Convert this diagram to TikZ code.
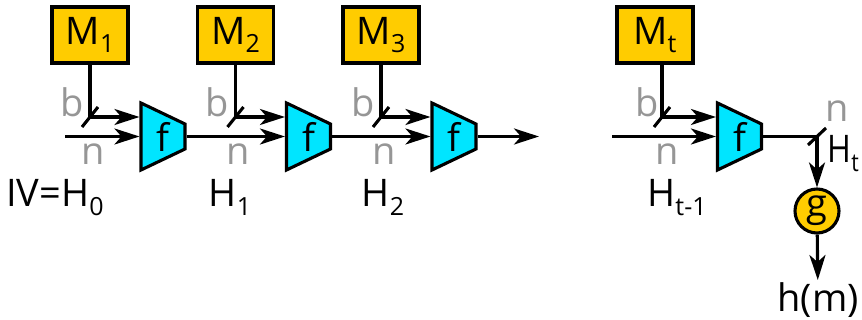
\documentclass[tikz,border=0pt]{standalone}
\usepackage{fontspec}
\setmainfont{Open Sans}
\usetikzlibrary{arrows.meta}
\definecolor{msgyellow}{RGB}{255,204,0}
\definecolor{fcyan}{RGB}{0,229,255}
\definecolor{lblgray}{RGB}{150,150,150}
\newcommand{\lowsub}[1]{\raisebox{-0.22em}{\fontsize{25}{25}\selectfont #1}}
\tikzset{
  msgbox/.style={draw, fill=msgyellow, minimum width=76pt, minimum height=56pt, inner sep=0pt},
  fbody/.style={draw, fill=fcyan, line join=miter},
  fnode/.style={minimum width=44pt, minimum height=67pt, inner sep=0pt},
  gcirc/.style={circle, draw, fill=msgyellow, minimum size=44pt, inner sep=0pt},
  buslbl/.style={text=lblgray, anchor=base},
  wire/.style={-{Stealth[length=25pt,width=16pt,inset=7pt]}},
}
\begin{document}
\begin{tikzpicture}[x=1pt, y=-1pt, line width=3.1pt,
  every node/.style={font=\fontsize{38}{40}\selectfont, inner sep=1pt}]
  \useasboundingbox (0,0) rectangle (862,320);
  % first three rounds
  \foreach \i/\x in {1/90, 2/235.5, 3/381} {
    \node[msgbox] (M\i) at (\x,35) {M\lowsub{\i}};
    \draw[fbody] (\x+51,103) -- (\x+95,124) -- (\x+95,149) -- (\x+51,170) -- cycle;
    \node[fnode] (f\i) at (\x+73,136.5) {f};
    \coordinate (b\i) at (\x,117);
    \draw (M\i) -- (b\i);
    \draw[wire] (b\i) -- (b\i -| f\i.west);
    \draw (b\i) ++(-8,10) -- ++(16,-20);
    \node[buslbl] (lb\i) at (\x-18,117) {b};
    \node[buslbl] (ln\i) at (\x+3,165) {n};
  }
  \coordinate (in0) at (65,136.5);
  \draw[wire] (in0) -- (f1.west);
  \draw[wire] (f1.east) -- (f2.west);
  \draw[wire] (f2.east) -- (f3.west);
  \coordinate (out3) at (539,136.5);
  \draw[wire] (f3.east) -- (out3);
  \node[anchor=base] (H0) at (55,207) {IV=H\lowsub{0}};
  \node[anchor=base] (H1) at (230,207) {H\lowsub{1}};
  \node[anchor=base] (H2) at (383,207) {H\lowsub{2}};
  % last round
  \node[msgbox] (Mt) at (655,35) {M\lowsub{t}};
  \draw[fbody] (717.5,103) -- (761.5,124) -- (761.5,149) -- (717.5,170) -- cycle;
  \node[fnode] (ft) at (739.5,136.5) {f};
  \coordinate (bt) at (662,117);
  \draw (bt |- Mt.south) -- (bt);
  \draw[wire] (bt) -- (bt -| ft.west);
  \draw (bt) ++(-8,10) -- ++(16,-20);
  \coordinate (int) at (612,136.5);
  \draw[wire] (int) -- (ft.west);
  \node[buslbl] (lbt) at (647,117) {b};
  \node[buslbl] (lnt) at (667,165) {n};
  \node[anchor=base] (Htm) at (677,207) {H\lowsub{t-1}};
  % output
  \coordinate (Ht) at (817,136.5);
  \draw (ft.east) -- (Ht);
  \draw (Ht) ++(-9,8.5) -- ++(18,-17);
  \node[buslbl] (lno) at (837,122) {n};
  \node[anchor=base west, inner sep=0pt] (Htl) at (826,163) {\scalebox{0.85}[1]{H\lowsub{t}}};
  \node[gcirc] (g) at (817,211) {g};
  \draw[wire] (Ht) -- (g);
  \node (hm) at (818,300) {h(m)};
  \draw[wire] (g) -- (hm);
\end{tikzpicture}
\end{document}
